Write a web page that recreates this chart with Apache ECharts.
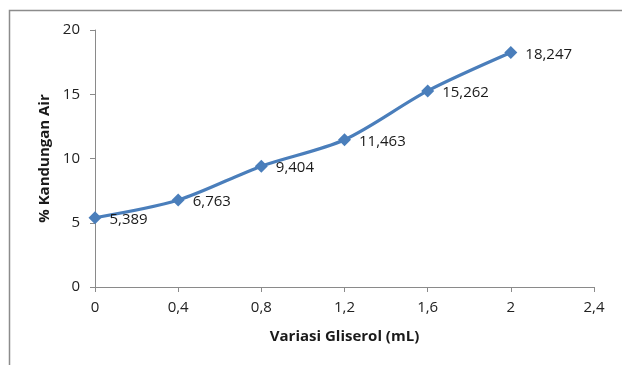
<!DOCTYPE html>
<html>
<head>
<meta charset="utf-8">
<script src="https://cdn.jsdelivr.net/npm/echarts@6/dist/echarts.min.js"></script>
<style>
  html, body { margin: 0; padding: 0; background: #fff; }
  #chart { width: 622px; height: 365px; }
</style>
</head>
<body>
<div id="chart"></div>
<script>
// Glycerol volume (mL) vs. water content (%)
const gliserol = [0, 0.4, 0.8, 1.2, 1.6, 2];
const kandunganAir = [5.389, 6.763, 9.404, 11.463, 15.262, 18.247];
const xTitle = 'Variasi Gliserol (mL)';
const yTitle = '% Kandungan Air';

const fmtComma = v => String(v).replace('.', ',');

const chart = echarts.init(document.getElementById('chart'), null, { renderer: 'canvas' });

const font = 'Open Sans, Liberation Sans, sans-serif';
const axisColor = '#8a8a8a';

chart.setOption({
  animation: false,
  backgroundColor: '#ffffff',
  graphic: [{
    type: 'rect',
    shape: { x: 9.5, y: 10.5, width: 700, height: 500 },
    style: { fill: 'none', stroke: '#8c8c8c', lineWidth: 1.5 },
    silent: true
  }],
  grid: { left: 95, top: 30, right: 28, bottom: 78, containLabel: false },
  xAxis: {
    type: 'value',
    min: 0, max: 2.4, interval: 0.4,
    name: xTitle,
    nameLocation: 'middle',
    nameGap: 42,
    nameTextStyle: { fontFamily: font, fontSize: 15, fontWeight: 'bold', color: '#1a1a1a' },
    axisLine: { show: true, onZero: false, lineStyle: { color: axisColor, width: 1 } },
    axisTick: { show: true, inside: false, length: 5, lineStyle: { color: axisColor } },
    axisLabel: {
      margin: 13, fontFamily: font, fontSize: 15, color: '#222',
      formatter: v => fmtComma(Math.round(v * 10) / 10)
    },
    splitLine: { show: false }
  },
  yAxis: {
    type: 'value',
    min: 0, max: 20, interval: 5,
    name: yTitle,
    nameLocation: 'middle',
    nameGap: 42,
    nameRotate: 90,
    nameTextStyle: { fontFamily: font, fontSize: 15, fontWeight: 'bold', color: '#1a1a1a' },
    axisLine: { show: true, lineStyle: { color: axisColor, width: 1 } },
    axisTick: { show: true, inside: false, length: 5, lineStyle: { color: axisColor } },
    axisLabel: { margin: 15, fontFamily: font, fontSize: 15, color: '#222' },
    splitLine: { show: false }
  },
  series: [{
    type: 'line',
    data: gliserol.map((x, i) => [x, kandunganAir[i]]),
    smooth: 0.3,
    symbol: 'diamond',
    symbolSize: 13,
    lineStyle: { color: '#4A7EBB', width: 3.2 },
    itemStyle: { color: '#4A7EBB' },
    label: {
      show: true,
      position: 'right',
      distance: 8,
      offset: [0, 2],
      fontFamily: font,
      fontSize: 15,
      color: '#1a1a1a',
      formatter: p => fmtComma(p.value[1])
    }
  }]
});
</script>
</body>
</html>
